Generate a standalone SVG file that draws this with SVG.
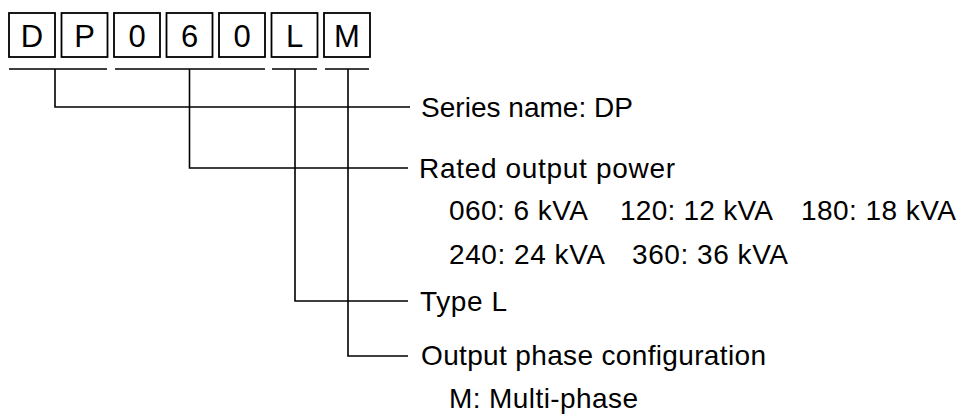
<svg xmlns="http://www.w3.org/2000/svg" width="957" height="415" viewBox="0 0 957 415">
<style>
.box{fill:#fff;stroke:#000;stroke-width:1.8}
.ch{font-family:"Liberation Sans",Arial,sans-serif;font-size:31px;fill:#000;text-anchor:middle}
.ln{fill:none;stroke:#000;stroke-width:1.6}
.t{font-family:"Liberation Sans",Arial,sans-serif;font-size:28px;fill:#000}
</style>
<rect width="957" height="415" fill="#fff"/>
<g id="code">
<g id="box-D"><rect class="box" x="9" y="13" width="46" height="44"/><text class="ch" x="32" y="46.5">D</text></g>
<g id="box-P"><rect class="box" x="61.5" y="13" width="46" height="44"/><text class="ch" x="84.5" y="46.5">P</text></g>
<g id="box-0a"><rect class="box" x="114" y="13" width="46" height="44"/><text class="ch" x="137" y="46.5">0</text></g>
<g id="box-6"><rect class="box" x="166.5" y="13" width="46" height="44"/><text class="ch" x="189.5" y="46.5">6</text></g>
<g id="box-0b"><rect class="box" x="219" y="13" width="46" height="44"/><text class="ch" x="242" y="46.5">0</text></g>
<g id="box-L"><rect class="box" x="271.5" y="13" width="46" height="44"/><text class="ch" x="294.5" y="46.5">L</text></g>
<g id="box-M"><rect class="box" x="324" y="13" width="46" height="44"/><text class="ch" x="347" y="46.5">M</text></g>
</g>
<g id="connectors">
<path class="ln" d="M9 69H107 M115 69H265 M272 69H317 M325 69H369"/>
<path class="ln" d="M55 69V107H410"/>
<path class="ln" d="M189.5 69V168H408"/>
<path class="ln" d="M295 69V301H408"/>
<path class="ln" d="M348 69V356H408"/>
</g>
<g id="label-series"><text class="t" x="421" y="117" textLength="212" lengthAdjust="spacing">Series name: DP</text></g>
<g id="label-power">
<text class="t" x="419" y="178" textLength="256" lengthAdjust="spacing">Rated output power</text>
<text class="t" x="449" y="220" textLength="139" lengthAdjust="spacing">060: 6 kVA</text>
<text class="t" x="620" y="220" textLength="153" lengthAdjust="spacing">120: 12 kVA</text>
<text class="t" x="801" y="220" textLength="155" lengthAdjust="spacing">180: 18 kVA</text>
<text class="t" x="449" y="264" textLength="156" lengthAdjust="spacing">240: 24 kVA</text>
<text class="t" x="632" y="264" textLength="156" lengthAdjust="spacing">360: 36 kVA</text>
</g>
<g id="label-type"><text class="t" x="420" y="311" textLength="87" lengthAdjust="spacing">Type L</text></g>
<g id="label-phase">
<text class="t" x="421" y="365" textLength="345" lengthAdjust="spacing">Output phase configuration</text>
<text class="t" x="449" y="408" textLength="189" lengthAdjust="spacing">M: Multi-phase</text>
</g>
</svg>
